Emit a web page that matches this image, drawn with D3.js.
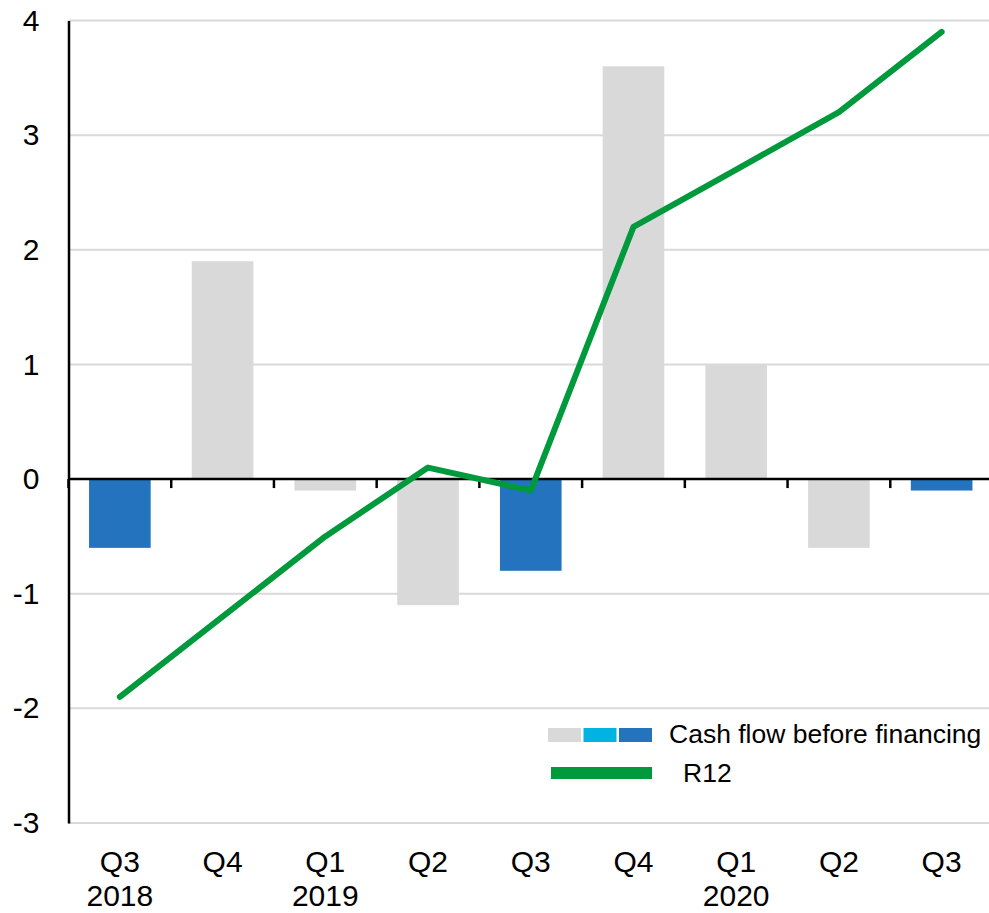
<!DOCTYPE html>
<html>
<head>
<meta charset="utf-8">
<script src="https://cdn.jsdelivr.net/npm/d3@7"></script>
<style>
  html, body { margin: 0; padding: 0; background: #fff; }
  svg { display: block; font-family: "Liberation Sans", Arial, sans-serif; }
</style>
</head>
<body>
<svg id="chart" width="989" height="913"></svg>
<script>
// Quarterly cash flow before financing and rolling 12-month total
const quarters = ["Q3", "Q4", "Q1", "Q2", "Q3", "Q4", "Q1", "Q2", "Q3"];
const years    = ["2018", "", "2019", "", "", "", "2020", "", ""];
const cashFlow = [-0.6, 1.9, -0.1, -1.1, -0.8, 3.6, 1.0, -0.6, -0.1];
const barKind  = ["q3", "other", "other", "other", "q3", "other", "other", "other", "q3"];
const r12      = [-1.9, -1.2, -0.5, 0.1, -0.1, 2.2, 2.7, 3.2, 3.9];
const yTicks   = [4, 3, 2, 1, 0, -1, -2, -3];

const colors = { other: "#d9d9d9", mid: "#00b3e3", q3: "#2373be", line: "#009a3d" };

const svg = d3.select("#chart");
const plotLeft = 68.5, plotRight = 993, plotTop = 20.5, plotBottom = 823;

const x = d3.scaleBand().domain(d3.range(quarters.length)).range([plotLeft, plotRight]).paddingInner(0.4).paddingOuter(0.2);
const step = x.step();
const y = d3.scaleLinear().domain([-3, 4]).range([plotBottom, plotTop]);

// gridlines
svg.append("g").selectAll("line").data(yTicks.filter(d => d !== 0)).join("line")
  .attr("x1", plotLeft).attr("x2", 989)
  .attr("y1", d => y(d)).attr("y2", d => y(d))
  .attr("stroke", "#d9d9d9").attr("stroke-width", 2);

// bars
svg.append("g").selectAll("rect").data(cashFlow).join("rect")
  .attr("x", (d, i) => x(i))
  .attr("width", x.bandwidth())
  .attr("y", d => y(Math.max(0, d)))
  .attr("height", d => Math.abs(y(d) - y(0)))
  .attr("fill", (d, i) => colors[barKind[i]]);

// y axis (plain hyphen for negatives)
const yAxis = d3.axisLeft(y).tickValues(yTicks).tickSize(0).tickPadding(29).tickFormat(d => String(d));
const gy = svg.append("g").attr("transform", `translate(${plotLeft},0)`).call(yAxis);
gy.select(".domain").attr("stroke", "#000").attr("stroke-width", 2.5);
gy.selectAll("text").attr("font-size", 30).attr("fill", "#000").attr("font-family", "Liberation Sans, Arial, sans-serif");

// zero line with category-boundary ticks
const xBoundary = d3.scaleLinear().domain([0, quarters.length]).range([plotLeft, plotLeft + step * quarters.length]);
const zero = svg.append("g").attr("transform", `translate(0,${y(0)})`);
zero.append("line").attr("x1", plotLeft).attr("x2", 989).attr("stroke", "#000").attr("stroke-width", 2.5);
zero.selectAll(".tk").data(d3.range(quarters.length + 1)).join("line")
  .attr("class", "tk")
  .attr("x1", d => xBoundary(d)).attr("x2", d => xBoundary(d))
  .attr("y1", 0).attr("y2", 9)
  .attr("stroke", "#000").attr("stroke-width", 2.5);

// category labels
const lbl = svg.append("g").attr("font-size", 30).attr("fill", "#000").attr("text-anchor", "middle");
lbl.selectAll(".q").data(quarters).join("text")
  .attr("class", "q")
  .attr("x", (d, i) => x(i) + x.bandwidth() / 2).attr("y", 872).text(d => d);
lbl.selectAll(".yr").data(years).join("text")
  .attr("class", "yr")
  .attr("x", (d, i) => x(i) + x.bandwidth() / 2).attr("y", 906).text(d => d);

// R12 line
const line = d3.line().x((d, i) => x(i) + x.bandwidth() / 2).y(d => y(d));
svg.append("path").datum(r12).attr("d", line)
  .attr("fill", "none").attr("stroke", colors.line).attr("stroke-width", 6)
  .attr("stroke-linejoin", "round").attr("stroke-linecap", "round");

// legend
const lg = svg.append("g");
[colors.other, colors.mid, colors.q3].forEach((c, i) => {
  lg.append("rect").attr("x", 548 + i * 35.5).attr("y", 728).attr("width", 33).attr("height", 14).attr("fill", c);
});
lg.append("text").attr("x", 669).attr("y", 743).attr("font-size", 26.5).text("Cash flow before financing");
lg.append("rect").attr("x", 551).attr("y", 767).attr("width", 101).attr("height", 12).attr("fill", colors.line);
lg.append("text").attr("x", 683).attr("y", 782).attr("font-size", 26.5).text("R12");
</script>
</body>
</html>
